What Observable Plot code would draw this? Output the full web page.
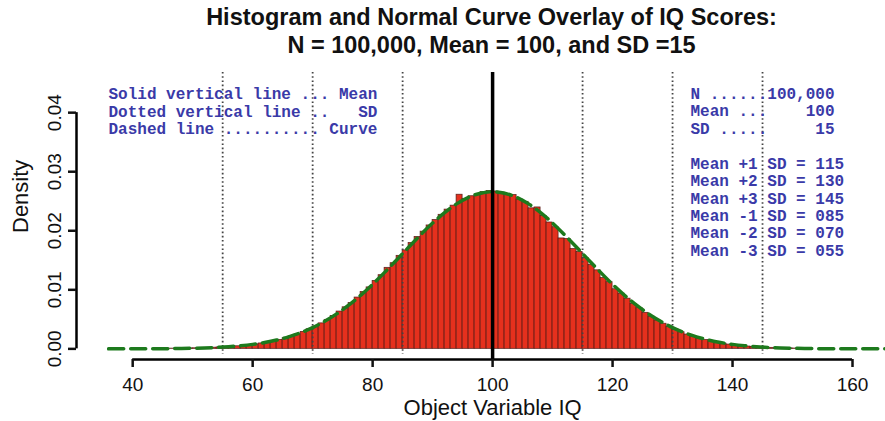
<!DOCTYPE html>
<html>
<head>
<meta charset="utf-8">
<script src="https://cdn.jsdelivr.net/npm/d3@7"></script>
<script src="https://cdn.jsdelivr.net/npm/@observablehq/plot@0.6"></script>
<style>
  body { margin: 0; background: #fff; }
  #title { width: 885px; height: 60px; box-sizing: border-box; padding-left: 98px; padding-top: 3px;
    text-align: center; font-family: "Liberation Sans", Arial, Helvetica, sans-serif; font-weight: bold;
    font-size: 23.5px; line-height: 28px; color: #111; }
  svg text { white-space: pre; }
</style>
</head>
<body>
<div id="title"></div>
<div id="chart"></div>
<script>
// ---- data ----
const titleLines = ["Histogram and Normal Curve Overlay of IQ Scores:", "N = 100,000, Mean = 100, and SD =15"];
const xLabel = "Object Variable IQ";
const yLabel = "Density";
const xTicks = [40, 60, 80, 100, 120, 140, 160];
const yTicks = [0.00, 0.01, 0.02, 0.03, 0.04];
const meanIQ = 100;
const sdLines = [55, 70, 85, 115, 130, 145];
const firstBin = 45;   // left edge of first histogram bin
const binWidth = 1;
const binDensity = [
  0.00004, 0.00004, 0.00005, 0.00007, 0.00008, 0.00010, 0.00013, 0.00016, 0.00020, 0.00024,
  0.00030, 0.00036, 0.00044, 0.00053, 0.00064, 0.00077, 0.00092, 0.00110, 0.00131, 0.00152,
  0.00181, 0.00214, 0.00246, 0.00287, 0.00332, 0.00378, 0.00432, 0.00491, 0.00556, 0.00632,
  0.00704, 0.00776, 0.00869, 0.00962, 0.01041, 0.01151, 0.01248, 0.01372, 0.01451, 0.01575,
  0.01668, 0.01792, 0.01895, 0.01985, 0.02090, 0.02182, 0.02270, 0.02358, 0.02425, 0.02610,
  0.02540, 0.02585, 0.02610, 0.02655, 0.02675, 0.02665, 0.02648, 0.02610, 0.02605, 0.02530,
  0.02490, 0.02380, 0.02395, 0.02250, 0.02140, 0.02060, 0.01870, 0.01860, 0.01690, 0.01640,
  0.01540, 0.01420, 0.01330, 0.01200, 0.01130, 0.01010, 0.00935, 0.00850, 0.00760, 0.00690,
  0.00610, 0.00545, 0.00480, 0.00425, 0.00370, 0.00325, 0.00282, 0.00243, 0.00208, 0.00178,
  0.00150, 0.00127, 0.00106, 0.00088, 0.00073, 0.00060, 0.00049, 0.00040, 0.00033, 0.00026,
  0.00021, 0.00017, 0.00013, 0.00010, 0.00008, 0.00006
];
const curveX = [36, 38, 40, 42, 44, 46, 48, 50, 52, 54, 56, 58, 60, 62, 64, 66, 68, 70, 72, 74, 76, 78, 80, 82, 84, 86, 88, 90, 92, 94, 96, 98,
  100, 102, 104, 106, 108, 110, 112, 114, 116, 118, 120, 122, 124, 126, 128, 130, 132, 134, 136, 138, 140, 142, 144, 146, 148, 150, 152, 154, 156, 158, 160, 162, 164, 166];
const curveY = [0.000003, 0.000005, 0.000009, 0.000015, 0.000025, 0.000041, 0.000065, 0.00010, 0.00016, 0.00024, 0.00036, 0.00053, 0.00076, 0.00107, 0.00149, 0.00204,
  0.00273, 0.00360, 0.00466, 0.00592, 0.00739, 0.00907, 0.01093, 0.01295, 0.01506, 0.01720, 0.01931, 0.02130, 0.02307, 0.02455, 0.02567, 0.02636,
  0.02660, 0.02636, 0.02567, 0.02455, 0.02307, 0.02130, 0.01931, 0.01720, 0.01506, 0.01295, 0.01093, 0.00907, 0.00739, 0.00592, 0.00466, 0.00360,
  0.00273, 0.00204, 0.00149, 0.00107, 0.00076, 0.00053, 0.00036, 0.00024, 0.00016, 0.00010, 0.000065, 0.000041, 0.000025, 0.000015, 0.000009, 0.000005, 0.000003, 0.000002];
const legendLeft = [
  "Solid vertical line ... Mean",
  "Dotted vertical line ..   SD",
  "Dashed line .......... Curve"
];
const legendRight = [
  "N ......100,000",
  "Mean ...    100",
  "SD .....     15",
  "",
  "Mean +1 SD = 115",
  "Mean +2 SD = 130",
  "Mean +3 SD = 145",
  "Mean -1 SD = 085",
  "Mean -2 SD = 070",
  "Mean -3 SD = 055"
];

document.getElementById("title").innerHTML = titleLines.join("<br>");

// ---- build tables ----
const bins = binDensity.map((d, i) => ({x1: firstBin + i * binWidth, x2: firstBin + (i + 1) * binWidth, density: d}));
const curve = curveX.map((x, i) => ({x, y: curveY[i]}));
const xDomain = [35.8, 165.5];
const yDomain = [-0.0018, 0.0468];

const ff = "'Liberation Sans', Arial, Helvetica, sans-serif";
const mono = "'Liberation Mono', 'Courier New', monospace";
const blue = "#3a3aa8";

const chart = Plot.plot({
  width: 885,
  height: 361,
  marginLeft: 107,
  marginRight: 0,
  marginTop: 12,
  marginBottom: 62,
  style: {fontFamily: ff, background: "#fff", color: "#111", overflow: "visible"},
  x: {domain: xDomain, label: null},
  y: {domain: yDomain, label: null},
  marks: [
    Plot.rectY(bins, {x1: "x1", x2: "x2", y: "density", fill: "#e5301d", stroke: "#4a1510", strokeWidth: 0.8, strokeOpacity: 0.85}),
    Plot.ruleX(sdLines, {stroke: "#444", strokeWidth: 1.8, strokeDasharray: "1.6,2.6", insetBottom: 5}),
    Plot.line(curve, {x: "x", y: "y", stroke: "#1d7a1d", strokeWidth: 3.5, strokeDasharray: "15,7", curve: "monotone-x", clip: true}),
    Plot.ruleX([meanIQ], {stroke: "#000", strokeWidth: 3.5}),
    Plot.text([legendLeft.join("\n")], {frameAnchor: "top-left", dx: 1, dy: 14, textAnchor: "start", lineAnchor: "top",
      fontFamily: mono, fontWeight: "bold", fontSize: 16, lineHeight: 1.1, fill: blue}),
    Plot.text([legendRight.join("\n")], {frameAnchor: "top-left", dx: 583, dy: 14, textAnchor: "start", lineAnchor: "top",
      fontFamily: mono, fontWeight: "bold", fontSize: 16, lineHeight: 1.09, fill: blue}),
    // axes
    Plot.ruleY([yDomain[0]], {x1: xTicks[0], x2: xTicks[xTicks.length - 1], stroke: "#000", strokeWidth: 2.5}),
    Plot.axisX({ticks: xTicks, tickSize: 8, tickPadding: 10, fontSize: 19, strokeWidth: 2.5, tickFormat: d => String(d), label: null}),
    Plot.ruleX([xDomain[0]], {y1: yTicks[0], y2: yTicks[yTicks.length - 1], dx: -31, stroke: "#000", strokeWidth: 2.5}),
    Plot.axisY({ticks: yTicks, anchor: "left", tickSize: 8, tickPadding: 8, dx: -31, tickRotate: -90, fontSize: 19, strokeWidth: 2.5,
      tickFormat: d => d.toFixed(2), label: null}),
    Plot.text([xLabel], {x: meanIQ, frameAnchor: "bottom", dy: 55, fontSize: 22, fill: "#111"}),
    Plot.text([yLabel], {frameAnchor: "left", dx: -87, dy: 17, rotate: -90, fontSize: 22, fill: "#111"})
  ]
});
document.getElementById("chart").appendChild(chart);
</script>
</body>
</html>
